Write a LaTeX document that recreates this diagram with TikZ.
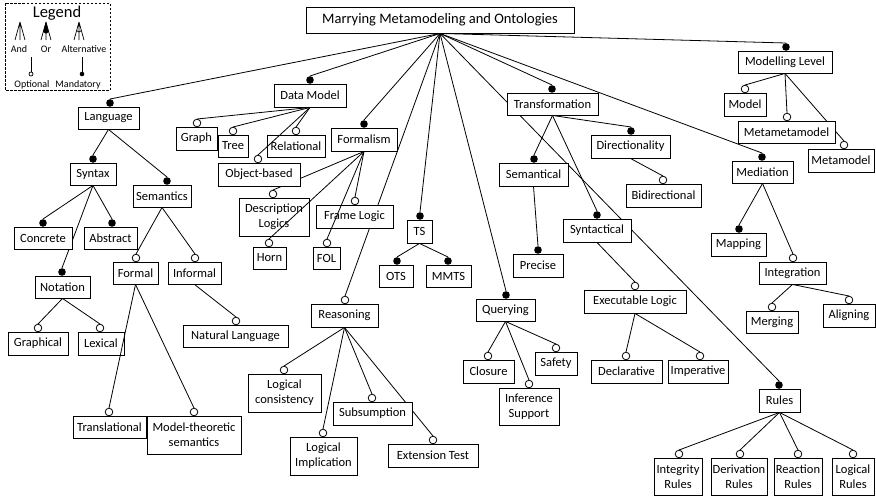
\documentclass[tikz,border=0pt]{standalone}
\usepackage{fontspec}
\setmainfont{Carlito}
\pgfdeclarelayer{links}
\pgfsetlayers{links,main}
\tikzset{
  box/.style={draw, line width=0.9pt, fill=white, inner sep=0pt, align=center,
    font=\fontsize{12.5}{15}\selectfont},
  conn/.style={line width=0.8pt},
  mandot/.style={fill=black},
  optdot/.style={draw=black, fill=white, line width=0.8pt},
  lgd/.style={inner sep=0pt, font=\fontsize{10}{11}\selectfont},
}
% #1 name, #2--#5 box corners, #6 x of the dot, #7 dot style, #8 label
\newcommand{\feature}[8]{%
  \node[box, minimum width={(#4-#2)*1pt}, minimum height={(#5-#3)*1pt}]
    (#1) at ({(#2+#4)/2},{(#3+#5)/2}) {#8};
  \coordinate (#1-t) at ({#6},{#3-8});
  \path[#7] ({#6},{#3-4}) circle (3.8pt);
}
% connector drawn behind the boxes
\newcommand{\link}[2]{\begin{pgfonlayer}{links}\draw[conn] (#1.south) -- (#2-t);\end{pgfonlayer}}
% connector drawn over the boxes
\newcommand{\toplink}[2]{\draw[conn] (#1.south) -- (#2-t);}

\begin{document}
\begin{tikzpicture}[x=1pt, y=-1pt]
\useasboundingbox (0,0) rectangle (876,499);

% ---------- legend ----------
\draw[line width=0.8pt, dash pattern=on 2.5pt off 1.5pt] (5,3) rectangle (110,90);
\node[inner sep=0pt, font=\fontsize{16.5}{18}\selectfont] (lgtitle) at (57,13) {Legend};
% and
\draw[line width=0.7pt] (20,22) -- (15,40) (20,22) -- (20,40) (20,22) -- (25,40);
% or
\draw[line width=0.7pt] (46,22) -- (41,40) (46,22) -- (46,40) (46,22) -- (51,40);
\fill (46,22) -- (43.2,32) .. controls (46,34) .. (48.8,32) -- cycle;
% alternative
\draw[line width=0.7pt] (79,22) -- (74,40) (79,22) -- (79,40) (79,22) -- (84,40);
\draw[line width=0.7pt] (76.5,30.5) .. controls (79,32.5) .. (81.5,30.5);
% optional / mandatory
\draw[line width=0.7pt] (31,57) -- (31,72);
\draw[line width=0.7pt, fill=white] (31,74) circle (2pt);
\draw[line width=0.7pt] (82,57) -- (82,72);
\fill (82,74) circle (2.3pt);
\node[lgd, anchor=base] (lgand) at (19,52) {And};
\node[lgd, anchor=base] (lgor) at (46,52) {Or};
\node[lgd, anchor=base] (lgalt) at (84,52) {Alternative};
\node[lgd, anchor=base] (lgopt) at (32,87.5) {Optional};
\node[lgd, anchor=base] (lgmand) at (78,87.5) {Mandatory};

% ---------- root ----------
\node[box, font=\fontsize{14.5}{17}\selectfont, minimum width=268pt, minimum height=26pt]
  (root) at (440,20) {Marrying Metamodeling and Ontologies};

% ---------- language ----------
\feature{language}{78}{107}{139}{129}{110}{mandot}{Language}
\feature{syntax}{70}{163}{116}{185}{93}{mandot}{Syntax}
\feature{semantics}{133}{185}{191}{207}{167}{mandot}{Semantics}
\feature{concrete}{14}{227}{72}{249}{43}{mandot}{Concrete}
\feature{abstract}{84}{227}{137}{249}{112}{mandot}{Abstract}
\feature{notation}{35}{276}{90}{298}{62}{mandot}{Notation}
\feature{formal}{113}{262}{158}{284}{136}{optdot}{Formal}
\feature{informal}{168}{262}{221}{284}{195}{optdot}{Informal}
\feature{graphical}{8}{332}{68}{355}{38}{optdot}{Graphical}
\feature{lexical}{78}{332}{124}{355}{100}{optdot}{Lexical}
\feature{natlang}{183}{325}{288}{347}{236}{optdot}{Natural Language}
\feature{translational}{73}{416}{146}{438}{109}{optdot}{Translational}
\feature{modeltheo}{147}{416}{241}{454}{194}{optdot}{Model-theoretic\\semantics}

% ---------- data model ----------
\feature{datamodel}{274}{84}{346}{107}{310}{mandot}{Data Model}
\feature{graph}{176}{127}{217}{150}{197}{optdot}{Graph}
\feature{tree}{218}{135}{248}{157}{233}{optdot}{Tree}
\feature{relational}{267}{135}{325}{157}{296}{optdot}{Relational}
\feature{objbased}{218}{163}{300}{186}{258}{optdot}{Object-based}

% ---------- formalism ----------
\feature{formalism}{331}{128}{397}{151}{364}{mandot}{Formalism}
\feature{desclogics}{239}{198}{309}{236}{273}{optdot}{Description\\Logics}
\feature{horn}{253}{247}{286}{269}{269}{optdot}{Horn}
\feature{framelogic}{316}{205}{393}{228}{355}{optdot}{Frame Logic}
\feature{fol}{313}{247}{340}{269}{327}{optdot}{FOL}

% ---------- TS ----------
\feature{ts}{407}{220}{432}{243}{420}{mandot}{TS}
\feature{ots}{379}{265}{413}{287}{397}{mandot}{OTS}
\feature{mmts}{426}{265}{471}{287}{448}{mandot}{MMTS}

% ---------- reasoning ----------
\feature{reasoning}{311}{304}{378}{327}{345}{optdot}{Reasoning}
\feature{logcons}{248}{374}{321}{412}{284}{optdot}{Logical\\consistency}
\feature{logimpl}{290}{437}{357}{475}{323}{optdot}{Logical\\Implication}
\feature{subsumption}{333}{402}{412}{425}{372}{optdot}{Subsumption}
\feature{exttest}{388}{444}{478}{467}{433}{optdot}{Extension Test}

% ---------- querying ----------
\feature{querying}{476}{299}{535}{321}{506}{mandot}{Querying}
\feature{closure}{463}{360}{514}{383}{488}{optdot}{Closure}
\feature{safety}{535}{352}{577}{375}{556}{optdot}{Safety}
\feature{infsupport}{499}{388}{559}{425}{529}{optdot}{Inference\\Support}

% ---------- transformation ----------
\feature{transformation}{507}{93}{598}{115}{552}{mandot}{Transformation}
\feature{semantical}{499}{163}{568}{186}{534}{mandot}{Semantical}
\feature{precise}{513}{254}{563}{277}{538}{mandot}{Precise}
\feature{syntactical}{563}{219}{631}{242}{597}{mandot}{Syntactical}
\feature{execlogic}{584}{290}{686}{313}{635}{optdot}{Executable Logic}
\feature{declarative}{591}{360}{662}{383}{626}{optdot}{Declarative}
\feature{imperative}{668}{360}{728}{383}{700}{optdot}{Imperative}
\feature{directionality}{591}{135}{670}{158}{631}{mandot}{Directionality}
\feature{bidirectional}{626}{184}{701}{207}{663}{optdot}{Bidirectional}

% ---------- rules ----------
\feature{rules}{759}{389}{800}{412}{779}{mandot}{Rules}
\feature{integrity}{654}{458}{702}{495}{679}{optdot}{Integrity\\Rules}
\feature{derivation}{711}{458}{767}{495}{740}{optdot}{Derivation\\Rules}
\feature{reaction}{774}{458}{822}{495}{798}{optdot}{Reaction\\Rules}
\feature{logicalrules}{832}{458}{874}{495}{853}{optdot}{Logical\\Rules}

% ---------- mediation ----------
\feature{mediation}{732}{161}{793}{183}{762}{mandot}{Mediation}
\feature{mapping}{711}{233}{766}{256}{739}{mandot}{Mapping}
\feature{integration}{759}{262}{826}{284}{793}{optdot}{Integration}
\feature{merging}{746}{311}{798}{333}{772}{optdot}{Merging}
\feature{aligning}{823}{304}{875}{327}{849}{optdot}{Aligning}

% ---------- modelling level ----------
\feature{modlevel}{738}{51}{832}{73}{786}{mandot}{Modelling Level}
\feature{model}{724}{93}{766}{116}{745}{optdot}{Model}
\feature{metametamodel}{738}{121}{835}{143}{787}{optdot}{Metametamodel}
\feature{metamodel}{808}{149}{874}{172}{844}{optdot}{Metamodel}

% ---------- connectors ----------
\foreach \c in {language,datamodel,formalism,reasoning,ts,querying,transformation,rules,mediation,modlevel}
  {\link{root}{\c}}
\link{language}{syntax}
\link{language}{semantics}
\link{syntax}{concrete}
\link{syntax}{abstract}
\link{syntax}{notation}
\link{notation}{graphical}
\link{notation}{lexical}
\link{semantics}{formal}
\link{semantics}{informal}
\link{informal}{natlang}
\toplink{formal}{translational}
\link{formal}{modeltheo}
\link{datamodel}{graph}
\link{datamodel}{tree}
\link{datamodel}{relational}
\toplink{datamodel}{objbased}
\link{formalism}{desclogics}
\toplink{formalism}{horn}
\link{formalism}{framelogic}
\toplink{formalism}{fol}
\link{ts}{ots}
\link{ts}{mmts}
\link{reasoning}{logcons}
\link{reasoning}{logimpl}
\link{reasoning}{subsumption}
\link{reasoning}{exttest}
\link{querying}{closure}
\link{querying}{safety}
\link{querying}{infsupport}
\link{transformation}{semantical}
\link{transformation}{syntactical}
\link{transformation}{directionality}
\link{semantical}{precise}
\link{syntactical}{execlogic}
\link{execlogic}{declarative}
\link{execlogic}{imperative}
\link{directionality}{bidirectional}
\link{rules}{integrity}
\link{rules}{derivation}
\link{rules}{reaction}
\link{rules}{logicalrules}
\link{mediation}{mapping}
\link{mediation}{integration}
\link{integration}{merging}
\link{integration}{aligning}
\link{modlevel}{model}
\link{modlevel}{metametamodel}
\link{modlevel}{metamodel}
\end{tikzpicture}
\end{document}
